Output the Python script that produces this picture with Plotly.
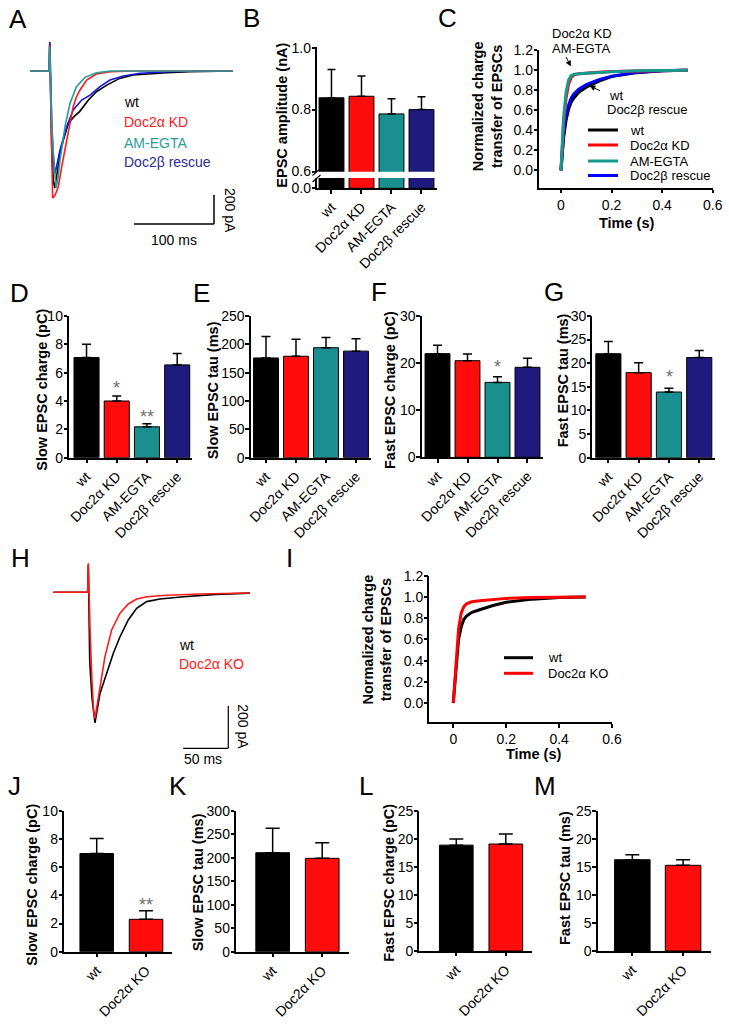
import math
import plotly.graph_objects as go

FW, FH = 729, 1024
FONT = "Liberation Sans, Arial, Helvetica, sans-serif"

# ---------------- data ----------------
groups_kd = ["wt", "Doc2α KD", "AM-EGTA", "Doc2β rescue"]
groups_ko = ["wt", "Doc2α KO"]

# B: EPSC amplitude (nA)
epsc_amp = [0.838, 0.843, 0.786, 0.800]
epsc_amp_err = [0.091, 0.065, 0.049, 0.041]

# D-G
slow_charge = [7.07, 4.00, 2.18, 6.55]
slow_charge_err = [0.93, 0.35, 0.22, 0.80]
slow_tau = [176, 179, 194, 188]
slow_tau_err = [38, 30, 18, 22]
fast_charge = [22.0, 20.5, 15.9, 19.1]
fast_charge_err = [1.8, 1.4, 1.2, 1.9]
fast_tau = [22.0, 18.0, 13.9, 21.2]
fast_tau_err = [2.6, 2.1, 0.8, 1.5]

# J-M
ko_slow_charge = [6.98, 2.30]
ko_slow_charge_err = [1.06, 0.61]
ko_slow_tau = [211, 199]
ko_slow_tau_err = [52, 33]
ko_fast_charge = [18.9, 19.1]
ko_fast_charge_err = [1.1, 1.8]
ko_fast_tau = [16.3, 15.3]
ko_fast_tau_err = [0.9, 1.0]

# A: example EPSC traces, time (ms) / current (pA)
a_wt_t = [0, 24, 24.6, 25.1, 25.6, 27, 29, 31, 34, 38, 42, 48, 55, 62, 73, 83, 96, 112, 129, 150, 171, 200, 253]
a_wt_i = [0, 0, 190, 20, -150, -500, -750, -807, -700, -560, -470, -360, -315, -280, -200, -143, -97, -51, -28, -18, -12, -5, 0]
a_kd_t = [0, 24, 24.6, 25.1, 25.6, 26.5, 27.5, 28.3, 31, 35.4, 40, 45.8, 50, 54, 58, 62.5, 70.8, 83, 100, 130, 253]
a_kd_i = [0, 0, 180, 20, -150, -450, -750, -876, -860, -798, -650, -476, -350, -246, -180, -131, -62, -21, -5, 0, 0]
a_egta_t = [0, 24, 24.6, 25.1, 25.6, 27, 29, 31, 32.5, 35, 37.5, 43.75, 50, 58, 68.75, 83, 100, 253]
a_egta_i = [0, 0, 170, 20, -150, -330, -550, -720, -807, -740, -614, -384, -223, -108, -44, -12, 0, 0]
a_resc_t = [0, 24, 24.8, 25.4, 26, 27.5, 29.5, 31.25, 34, 37.5, 45.8, 54, 64.6, 75, 87.5, 100, 116.7, 137.5, 171, 210, 253]
a_resc_i = [0, 0, 200, 20, -150, -420, -620, -706, -640, -545, -384, -269, -200, -166, -108, -62, -34, -16, -5, 0, 0]

# C: normalized cumulative charge
c_time = [0, 0.005, 0.01, 0.02, 0.03, 0.04, 0.05, 0.07, 0.1, 0.15, 0.2, 0.3, 0.4, 0.5]
c_wt = [0, 0.18, 0.32, 0.50, 0.61, 0.68, 0.72, 0.78, 0.83, 0.89, 0.935, 0.975, 0.993, 1.0]
c_kd = [0, 0.25, 0.45, 0.72, 0.86, 0.925, 0.95, 0.965, 0.972, 0.98, 0.986, 0.993, 0.998, 1.0]
c_egta = [0, 0.30, 0.52, 0.78, 0.90, 0.945, 0.957, 0.965, 0.970, 0.978, 0.985, 0.993, 0.998, 1.0]
c_resc = [0, 0.20, 0.35, 0.54, 0.65, 0.72, 0.76, 0.81, 0.855, 0.905, 0.94, 0.978, 0.995, 1.0]

# H: example traces wt vs KO
h_ko_t = [0, 38.2, 38.9, 39.5, 41, 43, 44.8, 46.3, 51.9, 57.4, 64.8, 74.1, 83.3, 92.6, 103.7, 126, 163, 218.5]
h_ko_i = [0, 0, 137, -21, -200, -420, -560, -596, -446, -304, -178, -99, -55, -32, -21, -14, -8, -3]
h_wt_t = [0, 38.2, 38.9, 39.4, 39.8, 40.5, 43, 45, 46.3, 51.9, 59.3, 66.7, 74.1, 83.3, 92.6, 103.7, 118.5, 144.4, 181.5, 218.5]
h_wt_i = [0, 0, 130, -20, -265, -330, -500, -590, -617, -478, -383, -288, -210, -131, -76, -44, -32, -21, -10, -4]

# I: normalized cumulative charge
i_time = [0, 0.005, 0.01, 0.02, 0.03, 0.04, 0.05, 0.07, 0.1, 0.15, 0.2, 0.3, 0.4, 0.5]
i_wt = [0, 0.17, 0.33, 0.60, 0.72, 0.79, 0.82, 0.855, 0.88, 0.92, 0.95, 0.98, 0.995, 1.0]
i_ko = [0, 0.20, 0.40, 0.70, 0.85, 0.91, 0.935, 0.955, 0.965, 0.978, 0.987, 0.995, 1.0, 1.0]

# ---------------- style ----------------
COL_BAR = ["#000000", "#ff0d0d", "#1a8f8f", "#1f1a7d"]
COL_BAR2 = ["#000000", "#ff0d0d"]
COL_TRACE = {"wt": "#000000", "kd": "#ff1a1a", "egta": "#22a0a0", "resc": "#1414e0"}
COL_CLINE = {"wt": "#000000", "kd": "#ff0000", "egta": "#16998f", "resc": "#0000ff"}
TICK_SIZE = 14
TITLE_SIZE = 14.5
STAR = "#707070"


def xdom(a, b):
    return [a / FW, b / FW]


def ydom(top, bottom):
    return [1 - bottom / FH, 1 - top / FH]


def PX(x):
    return x / FW


def PY(y):
    return 1 - y / FH


fig = go.Figure()
layout = dict(template="none", width=FW, height=FH, margin=dict(l=0, r=0, t=0, b=0, pad=0, autoexpand=False),
              paper_bgcolor="white", plot_bgcolor="rgba(0,0,0,0)", showlegend=False,
              font=dict(family=FONT, size=13, color="black"))
ann = []
shapes = []


def ax_style(**kw):
    d = dict(showline=True, linecolor="black", linewidth=1.5, ticks="outside", ticklen=3.5,
             tickwidth=1.5, tickcolor="black", showgrid=False, zeroline=False, automargin=False,
             tickfont=dict(family=FONT, size=TICK_SIZE, color="black"), fixedrange=True)
    d.update(kw)
    return d


def yax_style(**kw):
    return ax_style(ticklabelstandoff=-2, **kw)


def hidden_ax(**kw):
    d = dict(visible=False, automargin=False, fixedrange=True, showgrid=False, zeroline=False)
    d.update(kw)
    return d


def text(x, y, s, size=13, color="black", xanchor="center", yanchor="middle", angle=0, bold=False):
    ann.append(dict(x=PX(x), y=PY(y), xref="paper", yref="paper",
                    text=f"<b>{s}</b>" if bold else s, showarrow=False,
                    font=dict(family=FONT, size=size, color=color),
                    xanchor=xanchor, yanchor=yanchor, textangle=angle))


def pline(x0, y0, x1, y1, color="black", width=1.5):
    shapes.append(dict(type="line", xref="paper", yref="paper", x0=PX(x0), y0=PY(y0),
                       x1=PX(x1), y1=PY(y1), line=dict(color=color, width=width)))


def parrow(x0, y0, x1, y1, L=5, hw=2.5):
    dx, dy = x1 - x0, y1 - y0
    n = math.hypot(dx, dy)
    ux, uy = dx / n, dy / n
    bx, by = x1 - L * ux, y1 - L * uy
    pline(x0, y0, bx, by, width=1)
    p1 = (bx - hw * uy, by + hw * ux)
    p2 = (bx + hw * uy, by - hw * ux)
    path = f"M{PX(x1)},{PY(y1)} L{PX(p1[0])},{PY(p1[1])} L{PX(p2[0])},{PY(p2[1])} Z"
    shapes.append(dict(type="path", xref="paper", yref="paper", path=path,
                       fillcolor="black", line=dict(color="black", width=0.5)))


def bar_panel(n, values, errs, colors, labels, xd, yd, xr, yr, dtick, bar_w, cap_w, show_err=True,
              xvisible=True, ytickvals=None, yticktext=None):
    xs = list(range(len(values)))
    tr = dict(x=xs, y=values, width=bar_w,
              marker=dict(color=colors, line=dict(color="black", width=1)),
              xaxis=f"x{n}", yaxis=f"y{n}", showlegend=False, hoverinfo="skip")
    if show_err:
        tr["error_y"] = dict(type="data", array=errs, arrayminus=[0] * len(errs), symmetric=False,
                             color="black", thickness=1.5, width=cap_w)
    fig.add_trace(go.Bar(**tr))
    if xvisible:
        layout[f"xaxis{n}"] = ax_style(domain=xd, range=xr, anchor=f"y{n}", tickmode="array",
                                       tickvals=xs, ticktext=labels, tickangle=-45)
    else:
        layout[f"xaxis{n}"] = hidden_ax(domain=xd, range=xr, anchor=f"y{n}")
    yk = dict(domain=yd, range=yr, anchor=f"x{n}")
    if ytickvals is not None:
        yk.update(tickmode="array", tickvals=ytickvals, ticktext=yticktext)
    else:
        yk.update(dtick=dtick, tick0=0)
    layout[f"yaxis{n}"] = yax_style(**yk)


# ---------------- A ----------------
for t, i, k in [(a_wt_t, a_wt_i, "wt"), (a_resc_t, a_resc_i, "resc"),
                (a_kd_t, a_kd_i, "kd"), (a_egta_t, a_egta_i, "egta")]:
    fig.add_trace(go.Scatter(x=t, y=i, mode="lines", line=dict(color=COL_TRACE[k], width=1.6),
                             xaxis="x", yaxis="y", hoverinfo="skip"))
layout["xaxis"] = hidden_ax(domain=xdom(30, 235), range=[0, 256.25], anchor="y")
layout["yaxis"] = hidden_ax(domain=ydom(35, 245), range=[-1200, 248.3], anchor="x")
# scale bar A (100 ms, 200 pA)
shapes.append(dict(type="line", xref="x", yref="y", x0=130, x1=230, y0=-1055, y1=-1055, line=dict(color="black", width=1.5)))
shapes.append(dict(type="line", xref="x", yref="y", x0=230, x1=230, y0=-1055, y1=-855, line=dict(color="black", width=1.5)))
text(174, 240, "100 ms", size=14)
text(230, 210, "200 pA", size=14, angle=90)
text(122, 102, "wt", size=14, xanchor="left")
text(122, 122, "Doc2α KD", size=14, color="#ff1a1a", xanchor="left")
text(122, 143, "AM-EGTA", size=14, color="#2a9d9d", xanchor="left")
text(122, 162, "Doc2β rescue", size=14, color="#2b2b99", xanchor="left")

# ---------------- B (broken axis) ----------------
bar_panel(2, epsc_amp, epsc_amp_err, COL_BAR, groups_kd, xdom(317, 437), ydom(47.3, 171.7),
          [-0.483, 3.517], [0.5995, 1.001], None, 0.83, 4, xvisible=False,
          ytickvals=[0.6, 0.8, 1.0], yticktext=["0.6", "0.8", "1.0"])
bar_panel(3, epsc_amp, epsc_amp_err, COL_BAR, groups_kd, xdom(317, 437), ydom(178, 188.3),
          [-0.483, 3.517], [0, 0.033], None, 0.83, 4, show_err=False,
          ytickvals=[0], yticktext=["0.0"])
pline(312.5, 175.5, 320.5, 168.5, width=1.2)
pline(312.5, 182, 320.5, 175, width=1.2)
text(281.7, 115, "EPSC amplitude (nA)", size=TITLE_SIZE, angle=-90, bold=True)

# ---------------- C ----------------
for y, k in [(c_wt, "wt"), (c_resc, "resc"), (c_kd, "kd"), (c_egta, "egta")]:
    fig.add_trace(go.Scatter(x=c_time, y=y, mode="lines", line=dict(color=COL_CLINE[k], width=3),
                             xaxis="x4", yaxis="y4", hoverinfo="skip"))
layout["xaxis4"] = ax_style(domain=xdom(539, 713), range=[-0.087, 0.601], anchor="y4", tickmode="array",
                            tickvals=[0, 0.2, 0.4, 0.6], ticktext=["0", "0.2", "0.4", "0.6"])
layout["yaxis4"] = yax_style(domain=ydom(50, 188), range=[-0.177, 1.201], anchor="x4", tickmode="array",
                             tickvals=[0, 0.2, 0.4, 0.6, 0.8, 1.0, 1.2],
                             ticktext=["0.0", "0.2", "0.4", "0.6", "0.8", "1.0", "1.2"])
text(487.5, 106.7, "<b>Normalized charge</b><br><b>transfer of EPSCs</b>", size=TITLE_SIZE, angle=-90)
text(627.3, 222.5, "Time (s)", size=TITLE_SIZE, bold=True)
text(581.5, 33.5, "Doc2α KD", size=13)
text(581.5, 48, "AM-EGTA", size=13)
parrow(566, 57, 570.7, 66)
text(607, 95, "wt", size=13, xanchor="left")
text(605, 109, "Doc2β rescue", size=13, xanchor="left")
parrow(600, 90.7, 590, 86)
for yy, k, lab in [(130, "wt", "wt"), (145, "kd", "Doc2α KD"), (161, "egta", "AM-EGTA"), (175.5, "resc", "Doc2β rescue")]:
    pline(588, yy, 618, yy, color=COL_CLINE[k], width=3)
    text(628, yy, lab, size=13, xanchor="left")

# ---------------- D-G ----------------
bar_panel(5, slow_charge, slow_charge_err, COL_BAR, groups_kd, xdom(69, 192), ydom(315.7, 457.7),
          [-0.58, 3.49], [0, 10.02], 2, 0.83, 4.5)
bar_panel(6, slow_tau, slow_tau_err, COL_BAR, groups_kd, xdom(250.7, 371), ydom(315.7, 457.7),
          [-0.51, 3.5], [0, 250.5], 50, 0.83, 4.5)
bar_panel(7, fast_charge, fast_charge_err, COL_BAR, groups_kd, xdom(421.7, 543), ydom(315.7, 457.3),
          [-0.527, 3.517], [0, 30.05], 10, 0.83, 4.5)
bar_panel(8, fast_tau, fast_tau_err, COL_BAR, groups_kd, xdom(592.3, 715), ydom(315.7, 457.7),
          [-0.53, 3.52], [0, 30.05], 5, 0.83, 4.5)
text(41.7, 390, "Slow EPSC charge (pC)", size=TITLE_SIZE, angle=-90, bold=True)
text(213.3, 390, "Slow EPSC tau (ms)", size=TITLE_SIZE, angle=-90, bold=True)
text(390, 390, "Fast EPSC charge (pC)", size=TITLE_SIZE, angle=-90, bold=True)
text(563.3, 380, "Fast EPSC tau (ms)", size=TITLE_SIZE, angle=-90, bold=True)
text(116.5, 388, "*", size=18, color=STAR)
text(146.5, 416.5, "**", size=18, color=STAR)
text(497.5, 367, "*", size=18, color=STAR)
text(669, 377, "*", size=18, color=STAR)

# ---------------- H ----------------
for t, i, k in [(h_wt_t, h_wt_i, "wt"), (h_ko_t, h_ko_i, "kd")]:
    fig.add_trace(go.Scatter(x=t, y=i, mode="lines", line=dict(color=COL_TRACE[k], width=1.6),
                             xaxis="x9", yaxis="y9", hoverinfo="skip"))
layout["xaxis9"] = hidden_ax(domain=xdom(50, 255), range=[-3.67, 224.1], anchor="y9")
layout["yaxis9"] = hidden_ax(domain=ydom(555, 770), range=[-840.2, 176.4], anchor="x9")
shapes.append(dict(type="line", xref="x9", yref="y9", x0=144.4, x1=194.4, y0=-737.6, y1=-737.6, line=dict(color="black", width=1.2)))
shapes.append(dict(type="line", xref="x9", yref="y9", x0=194.4, x1=194.4, y0=-737.6, y1=-537.6, line=dict(color="black", width=1.2)))
text(203, 759, "50 ms", size=14)
text(243.5, 726.7, "200 pA", size=14, angle=90)
text(176.5, 645, "wt", size=14, xanchor="left")
text(176.5, 663.5, "Doc2α KO", size=14, color="#ff1a1a", xanchor="left")

# ---------------- I ----------------
for y, k in [(i_wt, "wt"), (i_ko, "kd")]:
    fig.add_trace(go.Scatter(x=i_time, y=y, mode="lines", line=dict(color=COL_CLINE[k], width=3),
                             xaxis="x10", yaxis="y10", hoverinfo="skip"))
layout["xaxis10"] = ax_style(domain=xdom(429.3, 612.3), range=[-0.0906, 0.601], anchor="y10", tickmode="array",
                             tickvals=[0, 0.2, 0.4, 0.6], ticktext=["0", "0.2", "0.4", "0.6"])
layout["yaxis10"] = yax_style(domain=ydom(575.7, 722.3), range=[-0.182, 1.201], anchor="x10", tickmode="array",
                              tickvals=[0, 0.2, 0.4, 0.6, 0.8, 1.0, 1.2],
                              ticktext=["0.0", "0.2", "0.4", "0.6", "0.8", "1.0", "1.2"])
text(376.5, 640, "<b>Normalized charge</b><br><b>transfer of EPSCs</b>", size=TITLE_SIZE, angle=-90)
text(534, 754, "Time (s)", size=TITLE_SIZE, bold=True)
for yy, k, lab in [(657.7, "wt", "wt"), (673.3, "kd", "Doc2α KO")]:
    pline(504, yy, 533, yy, color=COL_CLINE[k], width=3)
    text(545.7, yy, lab, size=13, xanchor="left")

# ---------------- J-M ----------------
bar_panel(11, ko_slow_charge, ko_slow_charge_err, COL_BAR2, groups_ko, xdom(64, 171.7), ydom(810.7, 951.7),
          [-0.663, 1.52], [0, 10.02], 2, 0.68, 7)
bar_panel(12, ko_slow_tau, ko_slow_tau_err, COL_BAR2, groups_ko, xdom(236, 349.3), ydom(810.7, 951.7),
          [-0.74, 1.547], [0, 300.5], 50, 0.68, 7)
bar_panel(13, ko_fast_charge, ko_fast_charge_err, COL_BAR2, groups_ko, xdom(419.3, 531.7), ydom(810.7, 951),
          [-0.747, 1.523], [0, 25.05], 5, 0.68, 7)
bar_panel(14, ko_fast_tau, ko_fast_tau_err, COL_BAR2, groups_ko, xdom(597.7, 711), ydom(810.7, 951),
          [-0.682, 1.55], [0, 25.05], 5, 0.70, 7)
text(31.7, 885, "Slow EPSC charge (pC)", size=TITLE_SIZE, angle=-90, bold=True)
text(198.3, 882, "Slow EPSC tau (ms)", size=TITLE_SIZE, angle=-90, bold=True)
text(388.3, 882.5, "Fast EPSC charge (pC)", size=TITLE_SIZE, angle=-90, bold=True)
text(565, 878, "Fast EPSC tau (ms)", size=TITLE_SIZE, angle=-90, bold=True)
text(146, 905, "**", size=18, color=STAR)

# ---------------- panel letters ----------------
for lab, x, y in [("A", 17.7, 19), ("B", 251, 17.5), ("C", 447.5, 18), ("D", 19, 293), ("E", 201, 293),
                  ("F", 379, 292), ("G", 554, 292), ("H", 20.8, 557.5), ("I", 289, 557.5),
                  ("J", 14, 786), ("K", 178, 786), ("L", 366, 786), ("M", 545, 786)]:
    text(x, y, lab, size=26)

layout["annotations"] = ann
layout["shapes"] = shapes
fig.update_layout(**layout)
fig.write_html(
    "out.html",
    config={"displayModeBar": False},
    post_script="document.body.style.margin='0px';document.body.style.padding='0px';"
                "document.documentElement.style.overflow='hidden';",
)
